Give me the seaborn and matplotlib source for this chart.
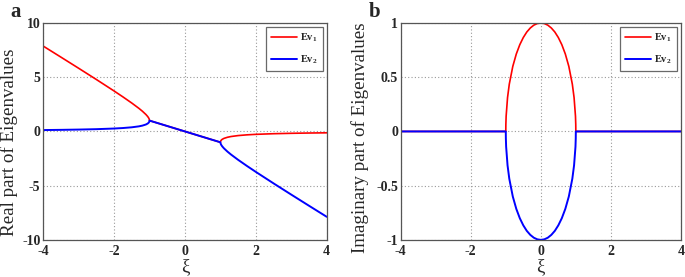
import matplotlib
matplotlib.use("Agg")
import matplotlib.pyplot as plt
import seaborn as sns
import pandas as pd

# ---- data ----
xi_real = [-4, -3.5, -3, -2.5, -2, -1.75, -1.5, -1.3, -1.2, -1.1, -1.05, -1.02, -1.005, -1,
           -0.5, 0, 0.5, 1, 1.005, 1.02, 1.05, 1.1, 1.2, 1.3, 1.5, 1.75, 2, 2.5, 3, 3.5, 4]
ev1_real = [7.873, 6.854, 5.828, 4.791, 3.732, 3.186, 2.618, 2.131, 1.863, 1.558, 1.370, 1.221, 1.105, 1.0,
            0.5, 0.0, -0.5, -1.0, -0.905, -0.819, -0.730, -0.642, -0.537, -0.469, -0.382, -0.314, -0.268,
            -0.209, -0.172, -0.146, -0.127]
ev2_real = [0.127, 0.146, 0.172, 0.209, 0.268, 0.314, 0.382, 0.469, 0.537, 0.642, 0.730, 0.819, 0.905, 1.0,
            0.5, 0.0, -0.5, -1.0, -1.105, -1.221, -1.370, -1.558, -1.863, -2.131, -2.618, -3.186, -3.732,
            -4.791, -5.828, -6.854, -7.873]

xi_imag = [-4, -1, -0.998, -0.99, -0.95, -0.9, -0.8, -0.7, -0.6, -0.5, -0.4, -0.3, -0.2, -0.1, 0,
           0.1, 0.2, 0.3, 0.4, 0.5, 0.6, 0.7, 0.8, 0.9, 0.95, 0.99, 0.998, 1, 4]
ev1_imag = [0, 0, 0.063, 0.141, 0.312, 0.436, 0.6, 0.714, 0.8, 0.866, 0.917, 0.954, 0.980, 0.995, 1.0,
            0.995, 0.980, 0.954, 0.917, 0.866, 0.8, 0.714, 0.6, 0.436, 0.312, 0.141, 0.063, 0, 0]
ev2_imag = [0, 0, -0.063, -0.141, -0.312, -0.436, -0.6, -0.714, -0.8, -0.866, -0.917, -0.954, -0.980, -0.995, -1.0,
            -0.995, -0.980, -0.954, -0.917, -0.866, -0.8, -0.714, -0.6, -0.436, -0.312, -0.141, -0.063, 0, 0]

series_labels = ["Ev$_1$", "Ev$_2$"]
colors = ["#ff0000", "#0000ff"]
xticks = [-4, -2, 0, 2, 4]
yticks_a = [-10, -5, 0, 5, 10]
yticks_b = [-1, -0.5, 0, 0.5, 1]
ytick_labels_b = ["-1", "-0.5", "0", "0.5", "1"]

sns.set_style("white")
plt.rcParams["font.family"] = ["Liberation Serif", "DejaVu Serif"]
plt.rcParams["font.weight"] = "bold"
plt.rcParams["mathtext.fontset"] = "custom"
plt.rcParams["mathtext.rm"] = "Liberation Serif:bold"
plt.rcParams["mathtext.it"] = "Liberation Serif:bold"
plt.rcParams["mathtext.bf"] = "Liberation Serif:bold"
plt.rcParams["mathtext.default"] = "bf"

fig = plt.figure(figsize=(6.85, 2.77), dpi=100)
axa = fig.add_axes([0.063, 0.134, 0.414, 0.783])
axb = fig.add_axes([0.585, 0.134, 0.409, 0.783])

dfa = pd.DataFrame({"xi": xi_real, "ev1": ev1_real, "ev2": ev2_real})
dfb = pd.DataFrame({"xi": xi_imag, "ev1": ev1_imag, "ev2": ev2_imag})

for ax, df in ((axa, dfa), (axb, dfb)):
    sns.lineplot(data=df, x="xi", y="ev1", ax=ax, color=colors[0], lw=1.2,
                 label=series_labels[0], sort=False, estimator=None)
    sns.lineplot(data=df, x="xi", y="ev2", ax=ax, color=colors[1], lw=1.4,
                 label=series_labels[1], sort=False, estimator=None)

def style(ax, yticks, ylabels, ylim, ylab, label_pos):
    ax.set_xlim(-4, 4)
    ax.set_ylim(*ylim)
    ax.set_xticks(xticks)
    ax.set_xticklabels([str(t) for t in xticks], fontweight="bold")
    ax.set_yticks(yticks)
    ax.set_yticklabels(ylabels, fontweight="bold")
    ax.grid(True, linestyle=(0, (1, 2)), color="#999999", lw=0.8)
    ax.tick_params(direction="in", length=3, labelsize=10, width=0.8, color="#555555")
    ax.tick_params(axis="x", pad=4)
    ax.tick_params(axis="y", pad=2)
    for s in ax.spines.values():
        s.set_color("#555555")
        s.set_linewidth(0.9)
    ax.set_xlabel("ξ", fontsize=13.5, labelpad=0, fontweight="normal")
    ax.set_ylabel(ylab, fontsize=13.7, fontweight="normal")
    ax.yaxis.set_label_coords(*label_pos)
    leg = ax.legend(loc="upper right", fontsize=7.5, frameon=True, fancybox=False,
                    edgecolor="#444444", borderpad=0.5, handlelength=2.5, labelspacing=0.9,
                    handletextpad=0.3, borderaxespad=0.35)
    leg.get_frame().set_linewidth(0.9)

style(axa, yticks_a, [str(t) for t in yticks_a], (-10, 10), "Real part of Eigenvalues", (-0.09, 0.45))
style(axb, yticks_b, ytick_labels_b, (-1, 1), "Imaginary part of Eigenvalues", (-0.112, 0.47))

fig.text(0.015, 0.955, "a", fontsize=15, fontweight="bold", va="center")
fig.text(0.538, 0.955, "b", fontsize=15, fontweight="bold", va="center")

fig.savefig("out.png", dpi=100)
